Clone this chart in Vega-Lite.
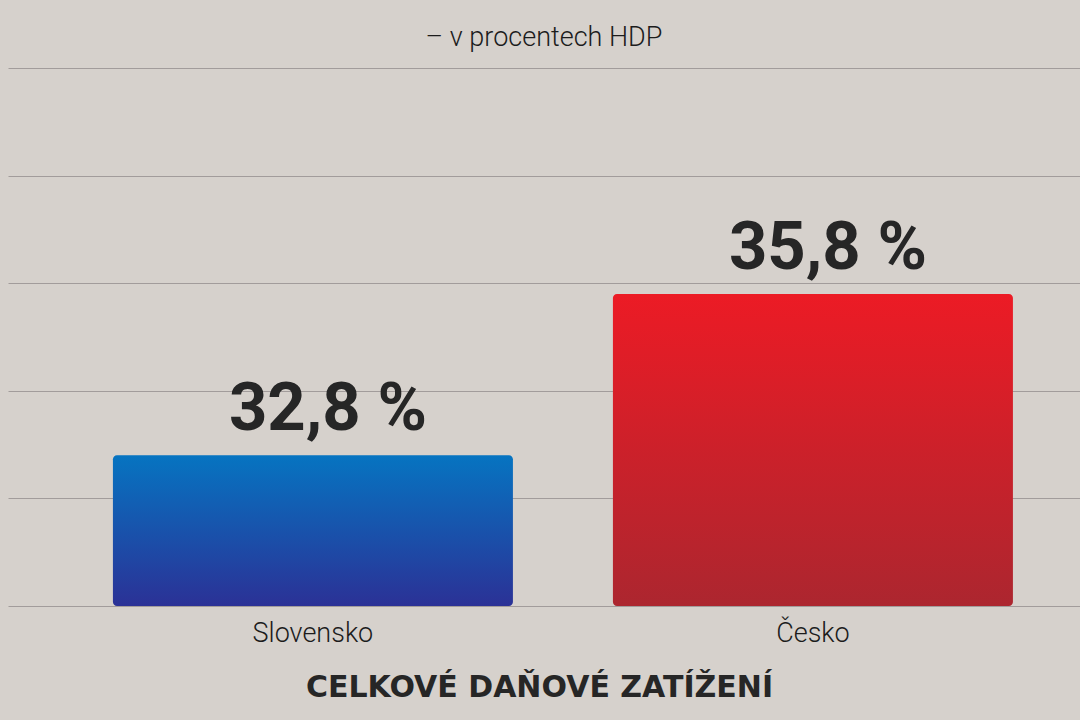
{
  "$schema": "https://vega.github.io/schema/vega-lite/v6.json",
  "width": 1072,
  "height": 538,
  "autosize": {"type": "none"},
  "padding": {"left": 8, "top": 68, "right": 0, "bottom": 114},
  "background": "#d6d1cc",
  "title": {
    "text": "– v procentech HDP",
    "anchor": "middle",
    "orient": "top",
    "offset": 16,
    "font": "Roboto",
    "fontSize": 27,
    "fontWeight": 300,
    "color": "#1c1c1c"
  },
  "data": {
    "values": [
      {"zeme": "Slovensko", "podil": 32.8, "popisek": "32,8 %"},
      {"zeme": "Česko", "podil": 35.8, "popisek": "35,8 %"}
    ]
  },
  "encoding": {
    "x": {
      "field": "zeme",
      "type": "nominal",
      "sort": null,
      "scale": {"paddingInner": 0.2, "paddingOuter": 0.172, "align": 0.61},
      "axis": {
        "title": "CELKOVÉ DAŇOVÉ ZATÍŽENÍ",
        "titleFont": "DejaVu Sans",
        "titleFontSize": 30,
        "titleFontWeight": "bold",
        "titleColor": "#262626",
        "titlePadding": 26,
        "titleX": 531,
        "labelAngle": 0,
        "labelFont": "Roboto",
        "labelFontSize": 27,
        "labelFontWeight": 300,
        "labelColor": "#1c1c1c",
        "labelPadding": 14,
        "domain": false,
        "ticks": false,
        "grid": false
      }
    }
  },
  "layer": [
    {
      "mark": {"type": "bar", "cornerRadius": 4},
      "encoding": {
        "y": {
          "field": "podil",
          "type": "quantitative",
          "scale": {"domain": [30, 40], "zero": false, "nice": false},
          "axis": {
            "title": null,
            "labels": false,
            "ticks": false,
            "domain": false,
            "grid": true,
            "gridColor": "#a29c9b",
            "gridWidth": 1,
            "values": [30, 32, 34, 36, 38, 40]
          }
        },
        "y2": {"datum": 30},
        "color": {
          "condition": {
            "test": "datum.zeme === 'Česko'",
            "value": {
              "gradient": "linear",
              "x1": 0, "y1": 0, "x2": 0, "y2": 1,
              "stops": [
                {"offset": 0, "color": "#ec1b25"},
                {"offset": 1, "color": "#ac262f"}
              ]
            }
          },
          "value": {
            "gradient": "linear",
            "x1": 0, "y1": 0, "x2": 0, "y2": 1,
            "stops": [
              {"offset": 0, "color": "#0674c1"},
              {"offset": 1, "color": "#2b3196"}
            ]
          }
        }
      }
    },
    {
      "mark": {
        "type": "text",
        "font": "Roboto",
        "fontSize": 67,
        "fontWeight": "bold",
        "color": "#262626",
        "baseline": "alphabetic",
        "align": "center",
        "dx": 15,
        "dy": -25
      },
      "encoding": {
        "y": {"field": "podil", "type": "quantitative"},
        "text": {"field": "popisek"}
      }
    }
  ],
  "config": {
    "view": {"stroke": null}
  }
}
